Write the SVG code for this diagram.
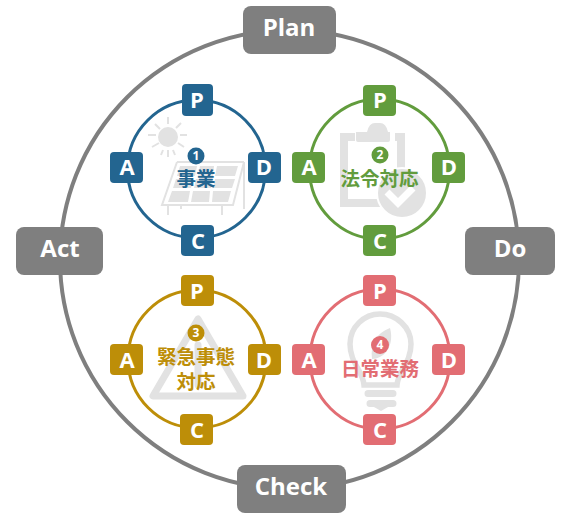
<svg xmlns="http://www.w3.org/2000/svg" width="561" height="523" viewBox="0 0 561 523">
<style>
text{font-family:"Open Sans","Noto Sans CJK JP",sans-serif;font-weight:700;text-anchor:middle}
.big{fill:#fff;font-size:24px}
.box{fill:#7f7f7f}
.ltr{fill:#fff;font-size:22px}
.ring{fill:none;stroke-width:3}
.lab{font-family:"Noto Sans CJK JP",sans-serif;font-size:19.5px}
.num{fill:#fff;font-size:12px}
.ic{fill:#e2e2e2}
.il{fill:none;stroke:#e2e2e2}
</style>
<rect width="561" height="523" fill="#fff"/>
<g id="connectors">
<circle cx="289.500" cy="259.500" r="229.500" fill="none" stroke="#7f7f7f" stroke-width="4"/>
</g>
<g id="plan"><rect class="box" x="243" y="6" width="93" height="48" rx="8"/><text class="big" x="289" y="36">Plan</text></g>
<g id="do"><rect class="box" x="465" y="227" width="90" height="48" rx="8"/><text class="big" x="510" y="257">Do</text></g>
<g id="check"><rect class="box" x="237" y="465" width="109" height="48" rx="8"/><text class="big" x="291" y="495">Check</text></g>
<g id="act"><rect class="box" x="16" y="227" width="87" height="48" rx="8"/><text class="big" x="60" y="257">Act</text></g>

<g id="cycle1">
<g id="icon-solar">
<circle class="ic" cx="168" cy="137" r="10"/>
<path class="il" stroke-width="2" d="M168 117v7M168 150v7M148 135h8M180 135h7M155 124l5 5M181 123l-5 5M152 147l7-4M184 147l-6-4M163 150l-2 5M173 150l2 5"/>
<path class="il" stroke-width="2" d="M177 162h67M177 162l-15 43h71l11-43M244 162v47M168 205v10M181 205v4M222 205v10"/>
<path class="ic" d="M180 166h17l-2 10h-18zM200 166h14l-1 10h-15zM217 166h21l-3 10h-20zM176 179h17l-2 9h-18zM196 179h16l-1 9h-17zM215 179h20l-3 9h-19zM172 191h18l-2 11h-20zM193 191h17l-1 11h-18zM213 191h18l-3 11h-16z"/>
</g>
<circle class="ring" cx="196.500" cy="169" r="69" stroke="#236590"/>
<rect x="182" y="84" width="31" height="32" rx="4" fill="#236590"/><text class="ltr" x="197" y="108">P</text>
<rect x="248" y="152" width="33" height="31" rx="4" fill="#236590"/><text class="ltr" x="264" y="175">D</text>
<rect x="181" y="225" width="33" height="31" rx="4" fill="#236590"/><text class="ltr" x="198" y="249">C</text>
<rect x="110" y="152" width="33" height="31" rx="4" fill="#236590"/><text class="ltr" x="127" y="175">A</text>
<circle cx="196" cy="156" r="8.500" fill="#236590"/><text class="num" x="196" y="159.700">1</text>
<text class="lab" x="196" y="186" fill="#236590">事業</text>
</g>

<g id="cycle2">
<g id="icon-clipboard">
<path class="il" stroke-width="8" d="M355 137h-11v66h36M395 137h6v50"/>
<path class="ic" d="M356 132h11q2-9 8-9h5q6 0 8 9h2v8q0 2-2 2h-30q-2 0-2-2z"/>
<circle fill="#e2e2e2" stroke="#fff" stroke-width="2" cx="402" cy="193" r="25"/>
<path d="M387 192l11 11 15-15" fill="none" stroke="#fff" stroke-width="7"/>
</g>
<circle class="ring" cx="379.500" cy="169" r="70" stroke="#629c3d"/>
<rect x="363" y="85" width="33" height="31" rx="4" fill="#629c3d"/><text class="ltr" x="380" y="108">P</text>
<rect x="432" y="152" width="33" height="31" rx="4" fill="#629c3d"/><text class="ltr" x="449" y="175">D</text>
<rect x="363" y="225" width="33" height="31" rx="4" fill="#629c3d"/><text class="ltr" x="380" y="249">C</text>
<rect x="292" y="152" width="33" height="31" rx="4" fill="#629c3d"/><text class="ltr" x="309" y="175">A</text>
<circle cx="380" cy="155" r="8.500" fill="#629c3d"/><text class="num" x="380" y="159">2</text>
<text class="lab" x="379.500" y="186" fill="#629c3d">法令対応</text>
</g>

<g id="cycle3">
<g id="icon-warning">
<path d="M198 319L153 396h90z" fill="none" stroke="#e2e2e2" stroke-width="7" stroke-linejoin="round"/>
<path class="il" stroke-width="7" stroke-linecap="round" d="M198 345v40"/>
</g>
<circle class="ring" cx="197" cy="359" r="69" stroke="#bd8e08"/>
<rect x="181" y="275" width="33" height="31" rx="4" fill="#bd8e08"/><text class="ltr" x="197" y="299">P</text>
<rect x="248" y="344" width="33" height="31" rx="4" fill="#bd8e08"/><text class="ltr" x="264" y="368">D</text>
<rect x="180" y="414" width="33" height="31" rx="4" fill="#bd8e08"/><text class="ltr" x="197" y="438">C</text>
<rect x="110" y="344" width="33" height="31" rx="4" fill="#bd8e08"/><text class="ltr" x="127" y="368">A</text>
<circle cx="196" cy="333" r="8.500" fill="#bd8e08"/><text class="num" x="196" y="337">3</text>
<text class="lab" fill="#bd8e08"><tspan x="196" y="364">緊急事態</tspan><tspan x="196" y="388.500">対応</tspan></text>
</g>

<g id="cycle4">
<g id="icon-bulb">
<path class="il" stroke-width="5.500" d="M364 385c-1-14-14-22-14-41 0-17 14-30 30-30s31 13 31 30c0 19-13 27-14 41z"/>
<path class="ic" d="M390 328c4 14-2 30-18 31-2-14 4-26 18-31zM368 390h25a3.500 3.500 0 0 1 0 7h-25a3.500 3.500 0 0 1 0-7zM370 400h23a3.500 3.500 0 0 1 0 7h-5l-7 4-7-4h-4a3.500 3.500 0 0 1 0-7z"/>
</g>
<circle class="ring" cx="380" cy="359" r="70" stroke="#e26d73"/>
<rect x="363" y="275" width="33" height="31" rx="4" fill="#e26d73"/><text class="ltr" x="380" y="299">P</text>
<rect x="432" y="344" width="33" height="31" rx="4" fill="#e26d73"/><text class="ltr" x="449" y="368">D</text>
<rect x="363" y="414" width="33" height="31" rx="4" fill="#e26d73"/><text class="ltr" x="380" y="438">C</text>
<rect x="292" y="344" width="33" height="31" rx="4" fill="#e26d73"/><text class="ltr" x="309" y="368">A</text>
<circle cx="380" cy="345" r="9" fill="#e26d73"/><text class="num" x="380" y="349">4</text>
<text class="lab" x="380" y="376" fill="#e26d73">日常業務</text>
</g>
</svg>
